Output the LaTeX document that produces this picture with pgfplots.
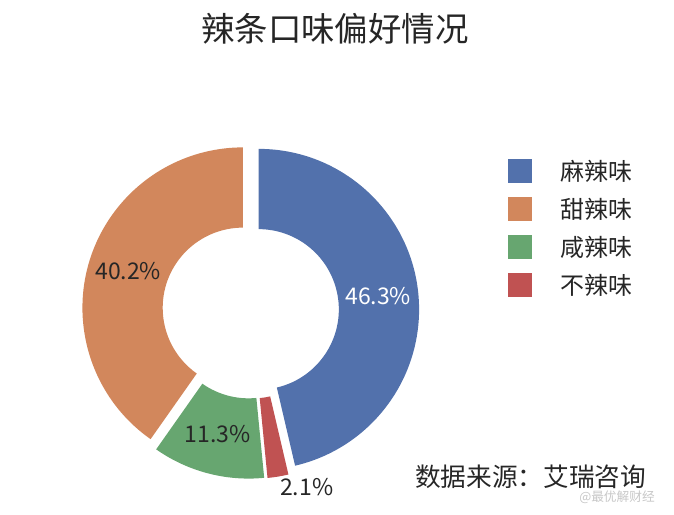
\documentclass[border=0pt]{standalone}
\usepackage{fontspec}
\setmainfont{Noto Sans CJK SC}
\usepackage{pgfplots}
\pgfplotsset{compat=1.18}
\definecolor{c1}{RGB}{82,113,172}
\definecolor{c2}{RGB}{210,135,92}
\definecolor{c3}{RGB}{103,166,112}
\definecolor{c4}{RGB}{192,82,82}
\definecolor{txt}{RGB}{38,38,38}
\begin{document}
\begin{tikzpicture}
\begin{axis}[x=1cm,y=1cm, xmin=-6.245, xmax=10.551, ymin=-5.076, ymax=7.733,
  hide axis, clip=false, disabledatascaling]
\pgfplotsextra{
  \xdef\start{90}
  \foreach \p/\col/\tcol in {46.3/c1/white, 2.1/c4/txt, 11.3/c3/txt, 40.2/c2/txt} {
    \pgfmathsetmacro\a{\start}
    \pgfmathsetmacro\b{\start-(360/99.9)*\p}
    \pgfmathsetmacro\m{(\a+\b)/2}
    \pgfmathsetmacro\sx{0.2*cos(\m)}
    \pgfmathsetmacro\sy{0.2*sin(\m)}
    \pgfmathsetmacro\ox{\sx+4*cos(\a)}
    \pgfmathsetmacro\oy{\sy+4*sin(\a)}
    \pgfmathsetmacro\ix{\sx+2*cos(\b)}
    \pgfmathsetmacro\iy{\sy+2*sin(\b)}
    \pgfmathsetmacro\lx{\sx+3*cos(\m)}
    \pgfmathsetmacro\ly{\sy+3*sin(\m)}
    \fill[\col] (axis cs:\ox,\oy) arc[start angle=\a, end angle=\b, radius=4cm]
      -- (axis cs:\ix,\iy) arc[start angle=\b, end angle=\a, radius=2cm] -- cycle;
    \pgfmathparse{\p>5 ? 1 : 0}
    \ifnum\pgfmathresult=1
      \node[text=\tcol, font=\fontsize{16.3pt}{19pt}\selectfont, inner sep=0pt]
        at (axis cs:\lx,\ly) {\p\%};
    \fi
    \xdef\start{\b}
  }
  \node[text=txt, font=\fontsize{16.3pt}{19pt}\selectfont, inner sep=0pt] at (axis cs:1.398,-4.396) {2.1\%};
  % title
  \node[text=txt, font=\fontsize{23.7pt}{28pt}\selectfont, inner sep=0pt] at (axis cs:2.101,7.010) {辣条口味偏好情况};
  % legend
  \foreach \y/\col/\lab in {3.472/c1/麻辣味, 2.525/c2/甜辣味, 1.577/c3/咸辣味, 0.630/c4/不辣味} {
    \fill[\col] (axis cs:6.415,\y) ++(0cm,-0.299cm) rectangle ++(0.598cm,0.598cm);
    \node[text=txt, anchor=west, font=\fontsize{17pt}{20pt}\selectfont, inner sep=0pt] at (axis cs:7.711,\y) {\lab};
  }
  % source
  \node[text=txt, anchor=west, font=\fontsize{18.2pt}{22pt}\selectfont, inner sep=0pt] at (axis cs:4.097,-4.154) {数据来源：艾瑞咨询};
  \node[text=black!22, font=\fontsize{9pt}{11pt}\selectfont, inner sep=0pt] at (axis cs:9.131,-4.653) {@最优解财经};
}
\end{axis}
\pgfresetboundingbox
\path (current axis.south west) rectangle (current axis.north east);
\end{tikzpicture}
\end{document}
